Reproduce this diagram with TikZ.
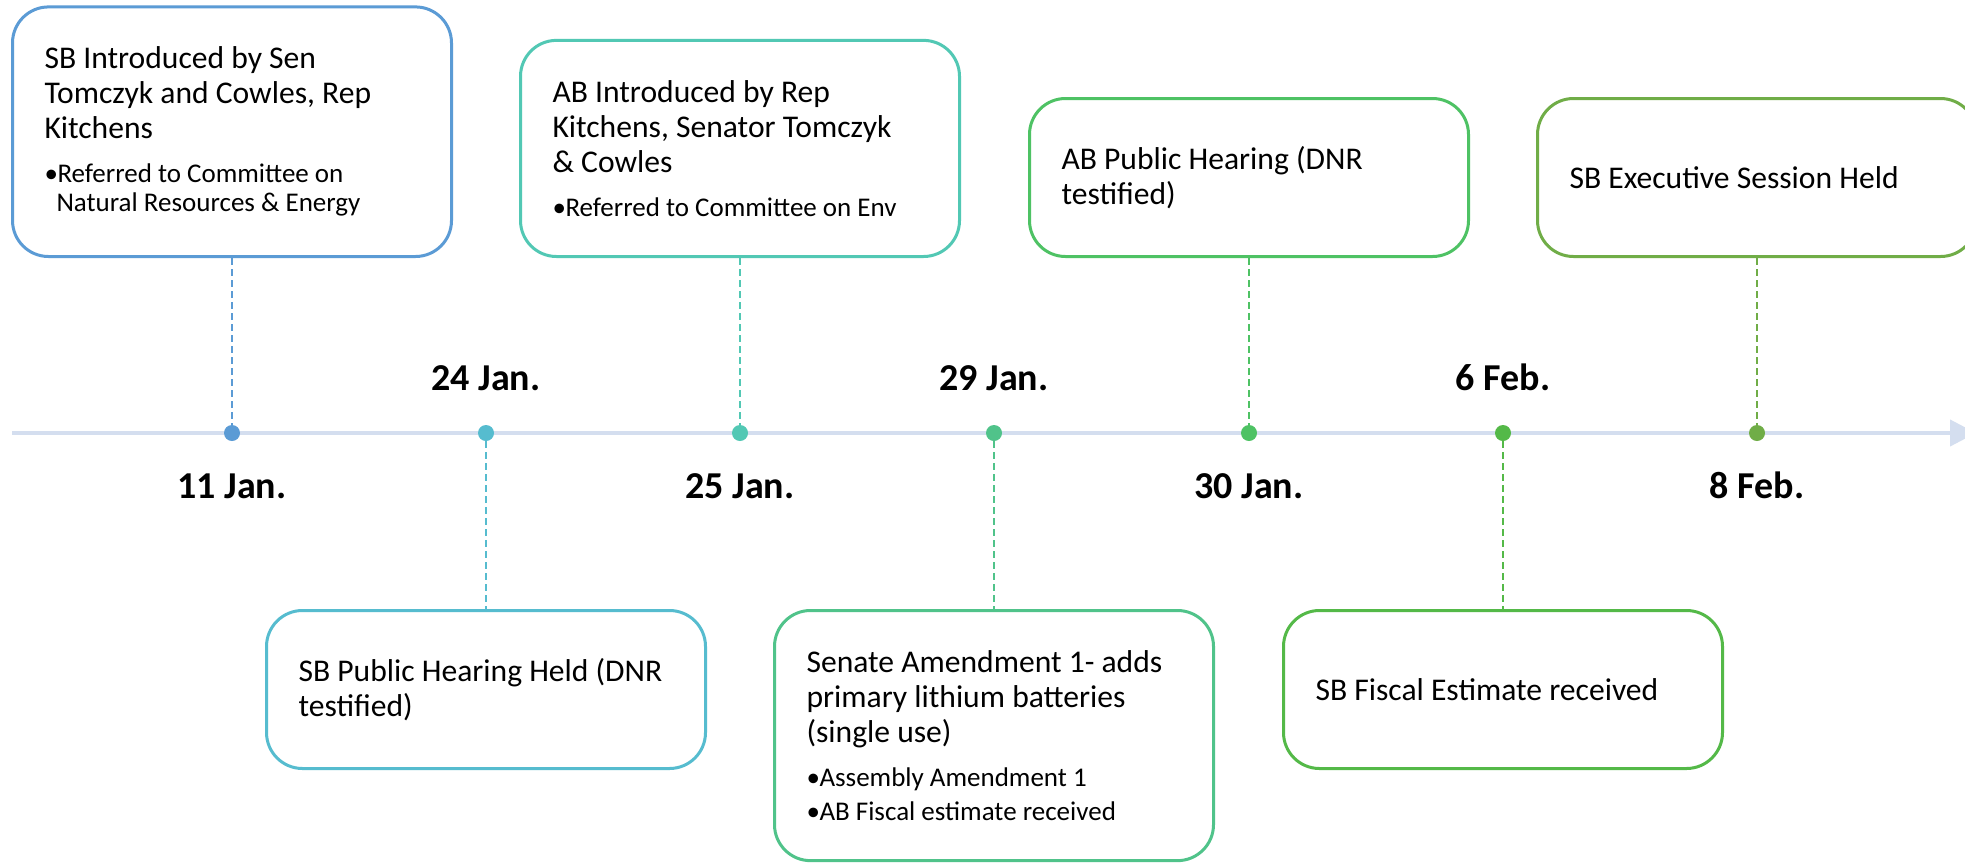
\documentclass[tikz,border=0pt]{standalone}
\usepackage{fontspec}
\setmainfont{Carlito}
\usetikzlibrary{arrows.meta}
\definecolor{tlone}{HTML}{5B9BD5}
\definecolor{tltwo}{HTML}{56BCCF}
\definecolor{tlthree}{HTML}{52C8B4}
\definecolor{tlfour}{HTML}{50C38A}
\definecolor{tlfive}{HTML}{4EC264}
\definecolor{tlsix}{HTML}{54B948}
\definecolor{tlseven}{HTML}{70AD47}
\definecolor{axisblue}{HTML}{D4DEEF}
\newcommand{\evtext}[1]{\begin{minipage}{187.5pt}\raggedright\fontsize{15.8}{17.5}\selectfont#1\end{minipage}}
\newcommand{\subitems}{\par\vspace{5pt}\fontsize{13.5}{14.5}\selectfont}
\newcommand{\bitem}[1]{\par\vspace{2.5pt}\hangindent6pt\hangafter1\noindent\makebox[6.5pt][l]{•}#1\par}

\begin{document}
\begin{tikzpicture}[x=0.5pt,y=-0.5pt,
        event/.style={draw,line width=1.5pt,rounded corners=18pt,fill=white,
            inner xsep=16pt,inner ysep=20pt,minimum height=79pt},
        dot/.style={circle,inner sep=0pt,minimum size=8pt},
        date/.style={anchor=base,font=\fontsize{19}{22}\selectfont\bfseries},
        stem/.style={dash pattern=on 3.5pt off 2pt,line width=0.8pt}]
        \useasboundingbox (0,0) rectangle (1965,863);
        \clip (0,0) rectangle (1965,863);
        \fill[white] (0,0) rectangle (1965,863);
        \coordinate (axstart) at (12,433);
        \coordinate (axend) at (1976,433);
        \draw[line width=2pt,axisblue,-{Triangle[length=13pt,width=13pt]}] (axstart) -- (axend);
        \node[dot,fill=tlone] (dot1) at (232,433){};
        \node[dot,fill=tltwo] (dot2) at (486,433){};
        \node[dot,fill=tlthree] (dot3) at (740,433){};
        \node[dot,fill=tlfour] (dot4) at (994,433){};
        \node[dot,fill=tlfive] (dot5) at (1249,433){};
        \node[dot,fill=tlsix] (dot6) at (1503,433){};
        \node[dot,fill=tlseven] (dot7) at (1757,433){};
        \node[event,draw=tlone,anchor=south] (sbintro) at (232,258){\evtext{SB Introduced by Sen\\Tomczyk and Cowles, Rep\\Kitchens\subitems\bitem{Referred to Committee on\newline Natural Resources \& Energy}}};
        \node[event,draw=tltwo,anchor=north] (sbhearing) at (486,609){\evtext{SB Public Hearing Held (DNR\\testified)}};
        \node[event,draw=tlthree,anchor=south] (abintro) at (740,258){\evtext{AB Introduced by Rep\\Kitchens, Senator Tomczyk\\\& Cowles\subitems\bitem{Referred to Committee on Env}}};
        \node[event,draw=tlfour,anchor=north] (amend) at (994,609){\evtext{Senate Amendment 1- adds\\primary lithium batteries\\(single use)\subitems\bitem{Assembly Amendment 1}\bitem{AB Fiscal estimate received}}};
        \node[event,draw=tlfive,anchor=south] (abhearing) at (1249,258){\evtext{AB Public Hearing (DNR\\testified)}};
        \node[event,draw=tlsix,anchor=north] (sbfiscal) at (1503,609){\evtext{SB Fiscal Estimate received}};
        \node[event,draw=tlseven,anchor=south] (sbexec) at (1757,258){\evtext{SB Executive Session Held}};
        \draw[stem,tlone] (sbintro.south) -- (dot1);
        \draw[stem,tltwo] (dot2) -- (sbhearing.north);
        \draw[stem,tlthree] (abintro.south) -- (dot3);
        \draw[stem,tlfour] (dot4) -- (amend.north);
        \draw[stem,tlfive] (abhearing.south) -- (dot5);
        \draw[stem,tlsix] (dot6) -- (sbfiscal.north);
        \draw[stem,tlseven] (sbexec.south) -- (dot7);
        \node[date] (jan11) at (232,498){11 Jan.};
        \node[date] (jan24) at (486,390){24 Jan.};
        \node[date] (jan25) at (740,498){25 Jan.};
        \node[date] (jan29) at (994,390){29 Jan.};
        \node[date] (jan30) at (1249,498){30 Jan.};
        \node[date] (feb6) at (1503,390){6 Feb.};
        \node[date] (feb8) at (1757,498){8 Feb.};
    \end{tikzpicture}
\end{document}
